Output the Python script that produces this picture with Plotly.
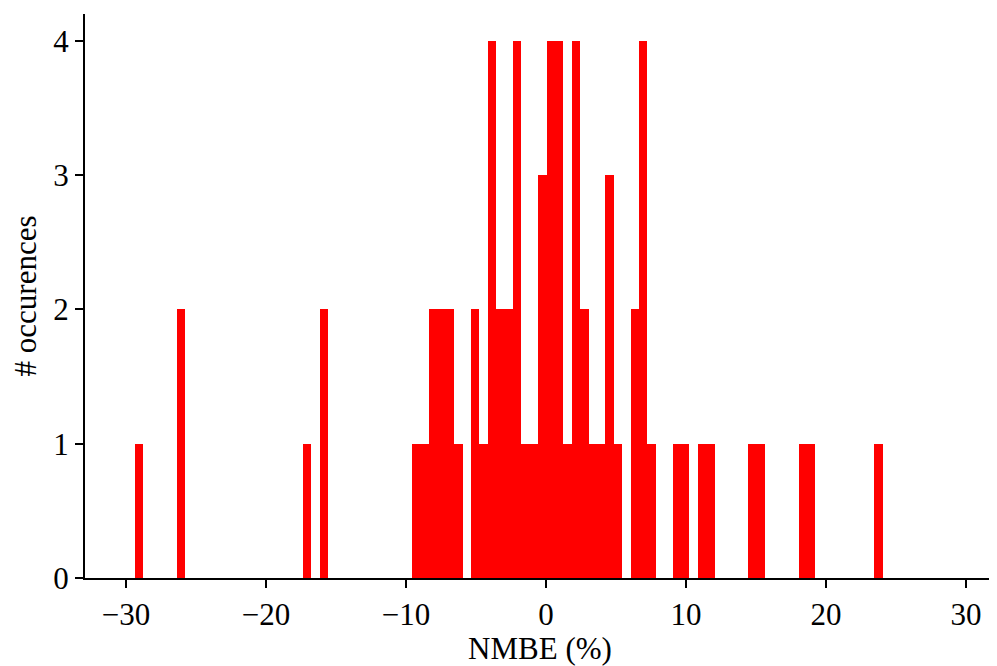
import plotly.graph_objects as go

# Histogram of NMBE (%) values: 89 bins of width 0.6 starting at -29.36
bin_start = -29.36
bin_width = 0.6
counts = [
    1, 0, 0, 0, 0, 2, 0, 0, 0, 0,   # 0-9
    0, 0, 0, 0, 0, 0, 0, 0, 0, 0,   # 10-19
    1, 0, 2, 0, 0, 0, 0, 0, 0, 0,   # 20-29
    0, 0, 0, 1, 1, 2, 2, 2, 1, 0,   # 30-39
    2, 1, 4, 2, 2, 4, 1, 1, 3, 4,   # 40-49
    4, 1, 4, 2, 1, 1, 3, 1, 0, 2,   # 50-59
    4, 1, 0, 0, 1, 1, 0, 1, 1, 0,   # 60-69
    0, 0, 0, 1, 1, 0, 0, 0, 0, 1,   # 70-79
    1, 0, 0, 0, 0, 0, 0, 0, 1,      # 80-88
]
x_ticks = [-30, -20, -10, 0, 10, 20, 30]
y_ticks = [0, 1, 2, 3, 4]

centers = [bin_start + bin_width * (i + 0.5) for i in range(len(counts))]

font_family = "Liberation Serif"
fs = 31

fig = go.Figure(
    go.Bar(
        x=centers,
        y=counts,
        width=bin_width,
        marker=dict(color="#ff0000", line=dict(width=0)),
    )
)

# the page body adds an 8 px offset, so the figure is sized 8 px smaller
fig.update_layout(
    width=989,
    height=658,
    margin=dict(l=77, r=2, t=6, b=88, autoexpand=False),
    plot_bgcolor="white",
    paper_bgcolor="white",
    bargap=0,
    showlegend=False,
    font=dict(family=font_family, size=fs, color="black"),
)

fig.update_xaxes(
    range=[-32.93, 32.07],
    tickmode="array",
    tickvals=x_ticks,
    ticks="outside",
    ticklen=8,
    tickwidth=2,
    tickcolor="black",
    showline=True,
    linewidth=2,
    linecolor="black",
    showgrid=False,
    zeroline=False,
    automargin=False,
    title=dict(text="NMBE (%)", font=dict(family=font_family, size=fs), standoff=8),
    tickfont=dict(family=font_family, size=fs),
)

fig.update_yaxes(
    range=[0, 4.2],
    tickmode="array",
    tickvals=y_ticks,
    ticks="outside",
    ticklen=8,
    tickwidth=2,
    tickcolor="black",
    showline=True,
    linewidth=2,
    linecolor="black",
    showgrid=False,
    zeroline=False,
    automargin=False,
    title=dict(text="# occurences", font=dict(family=font_family, size=fs), standoff=10),
    tickfont=dict(family=font_family, size=fs),
)

fig.write_html("out.html")
